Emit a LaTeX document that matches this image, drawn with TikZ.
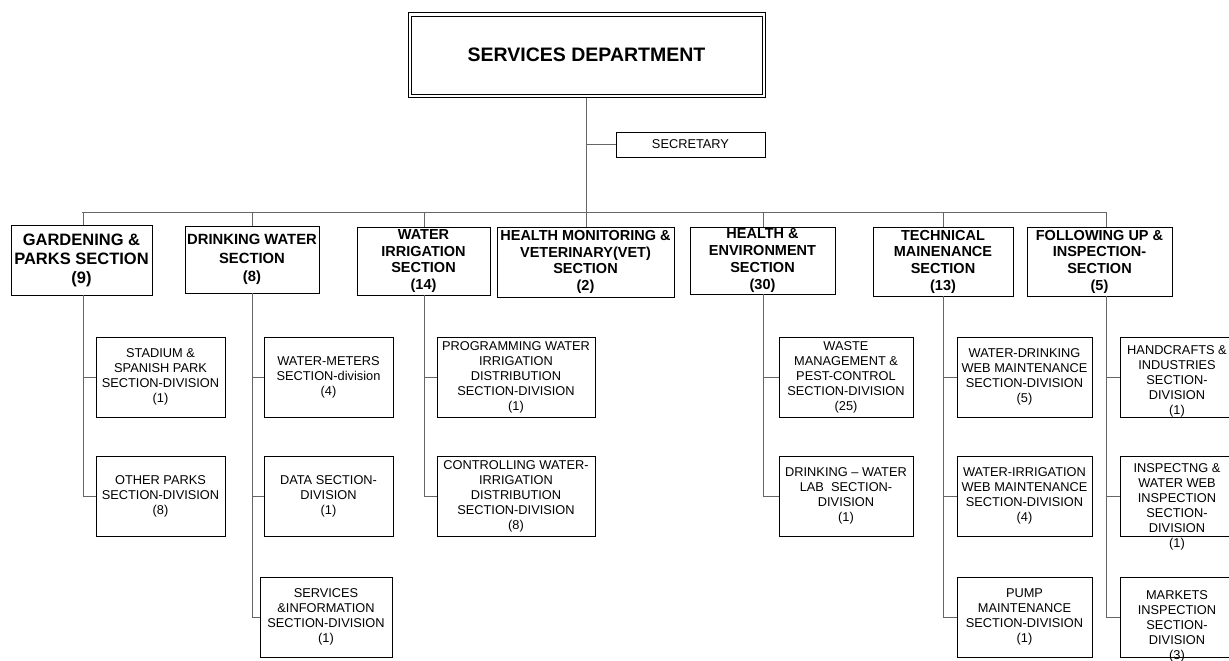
\documentclass[tikz,border=0pt]{standalone}
\usepackage{fontspec}
\setmainfont{Liberation Sans}
\begin{document}
\begin{tikzpicture}[x=1pt,y=-1pt,
  conn/.style={draw=black!60, line width=0.6pt},
  box/.style={draw=black, line width=0.9pt, inner sep=0pt, align=center},
  headbox/.style={box, line width=1pt,
    font=\fontsize{19.5}{23}\selectfont\bfseries},
  secbox/.style={box, font=\fontsize{14.5}{16.7}\selectfont\bfseries},
  subbox/.style={box, minimum height=80pt, font=\fontsize{12.8}{15}\selectfont},
  subtext/.style={inner sep=0pt, align=center, font=\fontsize{12.8}{15}\selectfont},
]
\useasboundingbox (0,0) rectangle (1229,661);

% head of the department (double frame) and secretary
\node[headbox, minimum width=357pt, minimum height=84pt] (top) at (586.5,55) {SERVICES DEPARTMENT};
\draw[line width=0.8pt] ([xshift=3.5pt,yshift=-3.5pt]top.north west) rectangle ([xshift=-3.5pt,yshift=3.5pt]top.south east);
\node[box, minimum width=149pt, minimum height=25pt, font=\fontsize{12.8}{15}\selectfont] (sec) at (690.5,144.5) {SECRETARY};

% sections
\node[secbox, minimum width=141pt, minimum height=70pt, font=\fontsize{16.5}{19}\selectfont\bfseries] (gard) at (81.5,260) {GARDENING \&\\PARKS SECTION\\(9)};
\node[secbox, minimum width=134pt, minimum height=67pt, font=\fontsize{14.8}{18.5}\selectfont\bfseries] (drink) at (252,259.5) {DRINKING WATER\\SECTION\\(8)};
\node[secbox, minimum width=133pt, minimum height=68pt] (wirr) at (423.5,261) {WATER\\IRRIGATION\\SECTION\\(14)};
\node[secbox, minimum width=177pt, minimum height=70pt] (hm) at (585.5,262) {HEALTH MONITORING \&\\VETERINARY(VET)\\SECTION\\(2)};
\node[secbox, minimum width=145pt, minimum height=67pt] (henv) at (762.5,260.5) {HEALTH \&\\ENVIRONMENT\\SECTION\\(30)};
\node[secbox, minimum width=140pt, minimum height=69pt] (tech) at (943,261.5) {TECHNICAL\\MAINENANCE\\SECTION\\(13)};
\node[secbox, minimum width=145pt, minimum height=69pt] (fu) at (1099.5,261.5) {FOLLOWING UP \&\\INSPECTION-\\SECTION\\(5)};

% divisions
\node[subbox, minimum width=129pt] (gs1) at (160.5,377) {STADIUM \&\\SPANISH PARK\\SECTION-DIVISION\\(1)};
\node[subbox, minimum width=129pt] (gs2) at (160.5,496) {OTHER PARKS\\SECTION-DIVISION\\(8)};

\node[subbox, minimum width=129pt] (ds1) at (328.5,377) {WATER-METERS\\SECTION-division\\(4)};
\node[subbox, minimum width=129pt] (ds2) at (328.5,496) {DATA SECTION-\\DIVISION\\(1)};
\node[subbox, minimum width=132pt] (ds3) at (326,617) {SERVICES\\\&INFORMATION\\SECTION-DIVISION\\(1)};

\node[subbox, minimum width=158pt] (ws1) at (516,377) {PROGRAMMING WATER\\IRRIGATION\\DISTRIBUTION\\SECTION-DIVISION\\(1)};
\node[subbox, minimum width=158pt] (ws2) at (516,496) {CONTROLLING WATER-\\IRRIGATION\\DISTRIBUTION\\SECTION-DIVISION\\(8)};

\node[subbox, minimum width=134pt] (hs1) at (846,377) {WASTE\\MANAGEMENT \&\\PEST-CONTROL\\SECTION-DIVISION\\(25)};
\node[subbox, minimum width=134pt] (hs2) at (846,496) {DRINKING -- WATER\\LAB\ \ SECTION-\\DIVISION\\(1)};

\node[subbox, minimum width=135pt] (ts1) at (1024.5,377) {WATER-DRINKING\\WEB MAINTENANCE\\SECTION-DIVISION\\(5)};
\node[subbox, minimum width=135pt] (ts2) at (1024.5,496) {WATER-IRRIGATION\\WEB MAINTENANCE\\SECTION-DIVISION\\(4)};
\node[subbox, minimum width=135pt] (ts3) at (1024.5,617) {PUMP\\MAINTENANCE\\SECTION-DIVISION\\(1)};

\node[subbox, minimum width=114pt] (fs1) at (1177,377) {};
\node[subbox, minimum width=114pt] (fs2) at (1177,496) {};
\node[subbox, minimum width=114pt] (fs3) at (1177,617) {};
\node[subtext] (fs1t) at ([yshift=-4pt]fs1.center) {HANDCRAFTS \&\\INDUSTRIES\\SECTION-\\DIVISION\\(1)};
\node[subtext] (fs2t) at ([yshift=-11pt]fs2.center) {INSPECTNG \&\\WATER WEB\\INSPECTION\\SECTION-\\DIVISION\\(1)};
\node[subtext] (fs3t) at ([yshift=-9pt]fs3.center) {MARKETS\\INSPECTION\\SECTION-\\DIVISION\\(3)};

% trunk, secretary branch and the bus over the sections
\draw[conn] (top.south) -- (top.south |- hm.north);
\draw[conn] (top.south |- sec.west) -- (sec.west);
\coordinate (busL) at (82,212);
\coordinate (busR) at (1106,212);
\draw[conn] (busL) -- (busR);

% columns of the section connectors
\coordinate (gx) at (83,0);
\coordinate (dx) at (252,0);
\coordinate (wx) at (424,0);
\coordinate (hx) at (763,0);
\coordinate (tx) at (943,0);
\coordinate (fx) at (1106,0);

\foreach \c/\s in {gx/gard, dx/drink, wx/wirr, hx/henv, tx/tech, fx/fu}
  \draw[conn] (\c |- busL) -- (\c |- \s.north);

% section to division connectors
\draw[conn] (gx |- gard.south) -- (gx |- gs2.west);
\foreach \d in {gs1, gs2} \draw[conn] (gx |- \d.west) -- (\d.west);

\draw[conn] (dx |- drink.south) -- (dx |- ds3.west);
\foreach \d in {ds1, ds2, ds3} \draw[conn] (dx |- \d.west) -- (\d.west);

\draw[conn] (wx |- wirr.south) -- (wx |- ws2.west);
\foreach \d in {ws1, ws2} \draw[conn] (wx |- \d.west) -- (\d.west);

\draw[conn] (hx |- henv.south) -- (hx |- hs2.west);
\foreach \d in {hs1, hs2} \draw[conn] (hx |- \d.west) -- (\d.west);

\draw[conn] (tx |- tech.south) -- (tx |- ts3.west);
\foreach \d in {ts1, ts2, ts3} \draw[conn] (tx |- \d.west) -- (\d.west);

\draw[conn] (fx |- fu.south) -- (fx |- fs3.west);
\foreach \d in {fs1, fs2, fs3} \draw[conn] (fx |- \d.west) -- (\d.west);
\end{tikzpicture}
\end{document}
